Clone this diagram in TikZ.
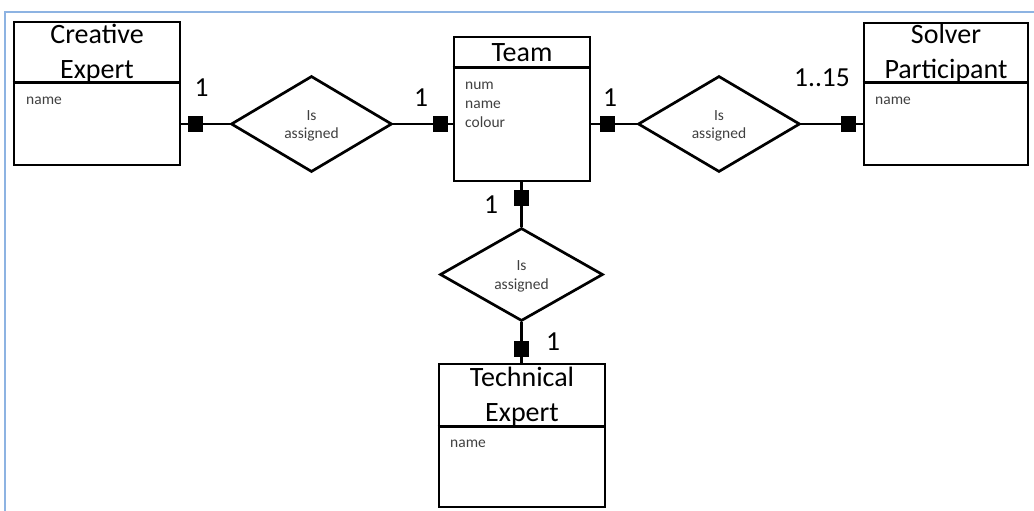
\documentclass[tikz,border=0pt]{standalone}
\usepackage{fontspec}
\setmainfont{Carlito}
\usetikzlibrary{shapes.geometric}
\definecolor{frameblue}{HTML}{8DB3E2}
\definecolor{txtgray}{HTML}{404040}
\begin{document}
\begin{tikzpicture}[x=1pt,y=-1pt,
  ln/.style={line width=2.7pt},
  entity/.style={draw,line width=2.7pt,rectangle,inner sep=0pt},
  rel/.style={draw,line width=2.7pt,diamond,inner sep=0pt},
  titletext/.style={anchor=base,inner sep=0pt,font=\fontsize{28}{34}\selectfont},
  attr/.style={anchor=base west,inner sep=0pt,text=txtgray,font=\fontsize{15.5}{19}\selectfont},
  rlab/.style={anchor=base,inner sep=0pt,text=txtgray,font=\fontsize{15.5}{19}\selectfont},
  sqmark/.style={fill=black,inner sep=0pt,minimum width=15pt,minimum height=16pt},
  card/.style={inner sep=0pt,font=\fontsize{27.5}{33}\selectfont}]
\useasboundingbox (0,0) rectangle (1034,511);
\draw[frameblue,line width=2pt] (1034,12) -- (5,12) -- (5,511);

% Creative Expert
\node[entity,minimum width=166pt,minimum height=143pt] (ce) at (97,93.5) {};
\draw[ln] ([yshift=-62pt]ce.north west) -- ([yshift=-62pt]ce.north east);
\node[titletext] (ce1) at (97,44) {Creative};
\node[titletext] (ce2) at (97,78) {Expert};
\node[attr] (cea) at (26,104) {name};

% Team
\node[entity,minimum width=136pt,minimum height=144pt] (team) at (522,109) {};
\draw[ln] ([yshift=-32pt]team.north west) -- ([yshift=-32pt]team.north east);
\node[titletext] (team1) at (522,62) {Team};
\node[attr] (ta1) at (465,89) {num};
\node[attr] (ta2) at (465,109) {name};
\node[attr] (ta3) at (465,128) {colour};

% Solver Participant
\node[entity,minimum width=164pt,minimum height=142pt] (sp) at (946,94) {};
\draw[ln] ([yshift=-61pt]sp.north west) -- ([yshift=-61pt]sp.north east);
\node[titletext] (sp1) at (946,44) {Solver};
\node[titletext] (sp2) at (946,78) {Participant};
\node[attr] (spa) at (875,104) {name};

% Technical Expert
\node[entity,minimum width=166pt,minimum height=143pt] (te) at (522,435.5) {};
\draw[ln] ([yshift=-64pt]te.north west) -- ([yshift=-64pt]te.north east);
\node[titletext] (te1) at (522,386) {Technical};
\node[titletext] (te2) at (522,421) {Expert};
\node[attr] (tea) at (450,447) {name};

% Relationships
\node[rel,minimum width=161pt,minimum height=96pt] (d1) at (311.5,124) {};
\node[rlab] (d1a) at (311.5,121) {Is};
\node[rlab] (d1b) at (311.5,139) {assigned};

\node[rel,minimum width=162pt,minimum height=96pt] (d2) at (719,124) {};
\node[rlab] (d2a) at (719,121) {Is};
\node[rlab] (d2b) at (719,139) {assigned};

\node[rel,minimum width=163pt,minimum height=93pt] (d3) at (521.5,274.5) {};
\node[rlab] (d3a) at (521.5,270) {Is};
\node[rlab] (d3b) at (521.5,289) {assigned};

% Connectors
\draw[ln] (d1.west -| ce.east) -- (d1.west);
\draw[ln] (d1.east) -- (d1.east -| team.west);
\draw[ln] (team.east |- d2.west) -- (d2.west);
\draw[ln] (d2.east) -- (d2.east -| sp.west);
\draw[ln] (d3.north |- team.south) -- (d3.north);
\draw[ln] (d3.south) -- (d3.south |- te.north);

% Markers
\node[sqmark] (m1) at (195,124) {};
\node[sqmark] (m2) at (440,124) {};
\node[sqmark] (m3) at (607,124) {};
\node[sqmark] (m4) at (848,124) {};
\node[sqmark] (m5) at (521.5,198) {};
\node[sqmark] (m6) at (521.5,349) {};

% Cardinalities
\node[card] (c1) at (201.5,87.5) {1};
\node[card] (c2) at (421,98) {1};
\node[card] (c3) at (610,98) {1};
\node[card] (c4) at (822,78) {1..15};
\node[card] (c5) at (491,205) {1};
\node[card] (c6) at (553,342) {1};
\end{tikzpicture}
\end{document}
